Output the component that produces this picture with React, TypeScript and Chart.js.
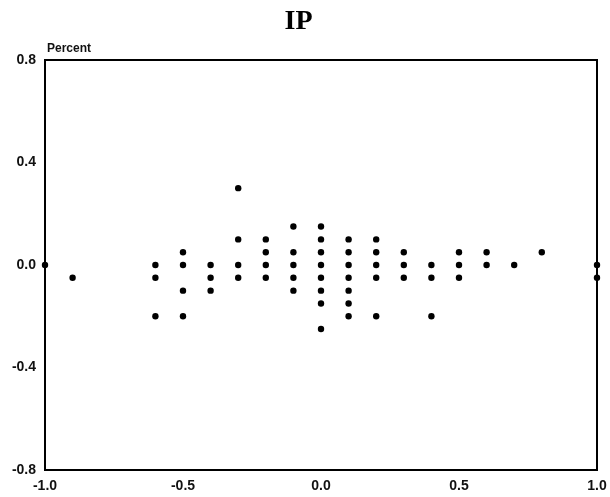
import React, { useEffect, useRef } from "react";
import { Chart, registerables } from "chart.js";

Chart.register(...registerables);

const chartTitle = "IP";
const yAxisLabel = "Percent";
const xTicks = [-1.0, -0.5, 0.0, 0.5, 1.0];
const yTicks = [0.8, 0.4, 0.0, -0.4, -0.8];

// x positions and y values of each dot (parallel arrays)
const xValues = [
  -1.0,
  -0.9,
  -0.6, -0.6, -0.6,
  -0.5, -0.5, -0.5, -0.5,
  -0.4, -0.4, -0.4,
  -0.3, -0.3, -0.3, -0.3,
  -0.2, -0.2, -0.2, -0.2,
  -0.1, -0.1, -0.1, -0.1, -0.1,
  0.0, 0.0, 0.0, 0.0, 0.0, 0.0, 0.0, 0.0,
  0.1, 0.1, 0.1, 0.1, 0.1, 0.1, 0.1,
  0.2, 0.2, 0.2, 0.2, 0.2,
  0.3, 0.3, 0.3,
  0.4, 0.4, 0.4,
  0.5, 0.5, 0.5,
  0.6, 0.6,
  0.7,
  0.8,
  1.0, 1.0,
];
const yValues = [
  0.0,
  -0.05,
  0.0, -0.05, -0.2,
  0.05, 0.0, -0.1, -0.2,
  0.0, -0.05, -0.1,
  0.3, 0.1, 0.0, -0.05,
  0.1, 0.05, 0.0, -0.05,
  0.15, 0.05, 0.0, -0.05, -0.1,
  0.15, 0.1, 0.05, 0.0, -0.05, -0.1, -0.15, -0.25,
  0.1, 0.05, 0.0, -0.05, -0.1, -0.15, -0.2,
  0.1, 0.05, 0.0, -0.05, -0.2,
  0.05, 0.0, -0.05,
  0.0, -0.05, -0.2,
  0.05, 0.0, -0.05,
  0.05, 0.0,
  0.0,
  0.05,
  0.0, -0.05,
];

const framePlugin = {
  id: "frame",
  afterDraw(chart: any) {
    const { ctx, chartArea } = chart;
    ctx.save();
    ctx.strokeStyle = "#000";
    ctx.lineWidth = 2;
    ctx.strokeRect(chartArea.left, chartArea.top, chartArea.right - chartArea.left, chartArea.bottom - chartArea.top);
    ctx.fillStyle = "#111";
    ctx.font = "bold 12px 'Liberation Sans', sans-serif";
    ctx.textAlign = "left";
    ctx.textBaseline = "alphabetic";
    ctx.fillText(yAxisLabel, chartArea.left + 2, chartArea.top - 8);
    ctx.restore();
  },
};

export default function App() {
  const ref = useRef<HTMLCanvasElement | null>(null);
  useEffect(() => {
    if (!ref.current) return;
    const points = xValues.map((x, i) => ({ x, y: yValues[i] }));
    const chart = new Chart(ref.current, {
      type: "scatter",
      data: {
        datasets: [
          {
            data: points,
            backgroundColor: "#000",
            borderColor: "#000",
            borderWidth: 0,
            pointRadius: 3.2,
            pointHoverRadius: 3.2,
            clip: false as any,
          },
        ],
      },
      options: {
        animation: false,
        responsive: false,
        maintainAspectRatio: false,
        layout: { padding: { top: 0, right: 13, left: 0, bottom: 0 } },
        plugins: {
          legend: { display: false },
          tooltip: { enabled: false },
          title: {
            display: true,
            text: chartTitle,
            color: "#000",
            font: { family: "'Liberation Serif', serif", size: 28, weight: "bold" },
            padding: { top: 5, bottom: 21.4 },
          },
        },
        scales: {
          x: {
            type: "linear",
            min: -1,
            max: 1,
            afterBuildTicks: (scale: any) => {
              scale.ticks = xTicks.map((v) => ({ value: v }));
            },
            afterFit: (scale: any) => {
              scale.height = 27;
              scale.paddingLeft = 0;
              scale.paddingRight = 0;
            },
            grid: { display: false, drawTicks: false },
            border: { display: false },
            ticks: {
              color: "#111",
              padding: 8,
              maxRotation: 0,
              autoSkip: false,
              font: { family: "'Liberation Sans', sans-serif", size: 14, weight: "bold" },
              callback: (v: any) => Number(v).toFixed(1),
            },
          },
          y: {
            type: "linear",
            min: -0.8,
            max: 0.8,
            afterBuildTicks: (scale: any) => {
              scale.ticks = yTicks.map((v) => ({ value: v }));
            },
            afterFit: (scale: any) => {
              scale.width = 45;
              scale.paddingTop = 0;
              scale.paddingBottom = 0;
            },
            grid: { display: false, drawTicks: false },
            border: { display: false },
            ticks: {
              color: "#111",
              padding: 9,
              autoSkip: false,
              font: { family: "'Liberation Sans', sans-serif", size: 14, weight: "bold" },
              callback: (v: any) => Number(v).toFixed(1),
            },
          },
        },
      },
      plugins: [framePlugin],
    });
    return () => chart.destroy();
  }, []);
  return (
    <div style={{ position: "fixed", left: 0, top: 0, width: 610, height: 497, background: "#fff" }}>
      <canvas ref={ref} width={610} height={497} style={{ display: "block" }} />
    </div>
  );
}
